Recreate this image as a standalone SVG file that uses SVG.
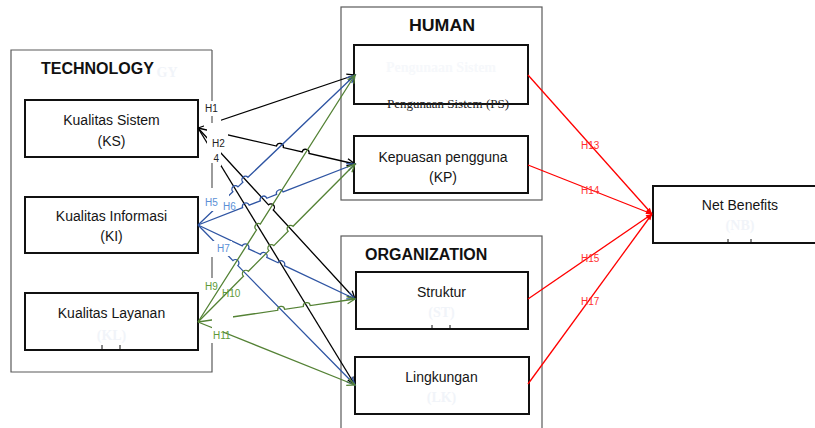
<svg xmlns="http://www.w3.org/2000/svg" width="815" height="428" viewBox="0 0 815 428">
<style>
.grp{fill:none;stroke:#5a5a5a;stroke-width:1.2}
.box{fill:#fff;stroke:#111;stroke-width:2}
.t{font-family:'Liberation Sans',Arial,sans-serif;font-size:14px;fill:#151515;text-anchor:middle}
.hd{font-family:'Liberation Sans',Arial,sans-serif;font-weight:bold;font-size:16px;fill:#111}
.ser{font-family:'Liberation Serif','Times New Roman',serif;font-size:13px;fill:#222;text-anchor:middle}
.ghost{font-family:'Liberation Serif','Times New Roman',serif;font-weight:bold;font-size:14px;fill:#f1f4f9;text-anchor:middle}
.c{fill:none;stroke-width:1.3}
.k{stroke:#000}
.b{stroke:#2f55a3}
.g{stroke:#548235}
.r{stroke:#ff0000}
.lbl{font-family:'Liberation Sans',Arial,sans-serif;font-size:10px}
.lk{fill:#222}
.lb{fill:#5b8fd6}
.lg{fill:#5e9a38}
.lr{fill:#ff3030}
.gap{fill:#fff}
.tick{stroke:#111;stroke-width:1}
</style>
<defs>
<marker id="ak" markerUnits="userSpaceOnUse" markerWidth="12" markerHeight="12" refX="0" refY="0" viewBox="-10 -6 12 12" orient="auto"><path d="M-8,-3.6 L0,0 L-8,3.6" fill="none" stroke="#000" stroke-width="1.3"/></marker>
<marker id="ab" markerUnits="userSpaceOnUse" markerWidth="12" markerHeight="12" refX="0" refY="0" viewBox="-10 -6 12 12" orient="auto"><path d="M-8,-3.6 L0,0 L-8,3.6" fill="none" stroke="#2f55a3" stroke-width="1.3"/></marker>
<marker id="ag" markerUnits="userSpaceOnUse" markerWidth="12" markerHeight="12" refX="0" refY="0" viewBox="-10 -6 12 12" orient="auto"><path d="M-8,-3.6 L0,0 L-8,3.6" fill="none" stroke="#548235" stroke-width="1.3"/></marker>
<marker id="ar" markerUnits="userSpaceOnUse" markerWidth="10" markerHeight="10" refX="0" refY="0" viewBox="-8 -5 10 10" orient="auto"><path d="M-6,-2.5 L0,0 L-6,2.5 Z" fill="#ff0000"/></marker>
</defs>
<rect width="815" height="428" fill="#fff"/>

<!-- group containers -->
<g id="technology">
<path class="grp" d="M212,50 L11,50 L11,372 L212,372 L212,343"/>
<text class="ghost" x="167" y="77" font-size="17">GY</text>
<text class="hd" x="41" y="74">TECHNOLOGY</text>
</g>
<g id="human">
<rect class="grp" x="341" y="7" width="201" height="193"/>
<text class="hd" x="409" y="31" textLength="66" lengthAdjust="spacingAndGlyphs">HUMAN</text>
</g>
<g id="organization">
<rect class="grp" x="341" y="236" width="201" height="210"/>
<text class="hd" x="365" y="260">ORGANIZATION</text>
</g>

<!-- nodes -->
<g id="ks">
<rect class="box" x="25" y="100" width="173" height="57"/>
<text class="t" x="111.5" y="125">Kualitas Sistem</text>
<text class="t" x="111.5" y="146">(KS)</text>
</g>
<g id="ki">
<rect class="box" x="25" y="197" width="173" height="56"/>
<text class="t" x="111.5" y="221">Kualitas Informasi</text>
<text class="t" x="111.5" y="241">(KI)</text>
</g>
<g id="kl">
<rect class="box" x="25" y="293" width="173" height="57"/>
<text class="t" x="111.5" y="318">Kualitas Layanan</text>
<text class="ghost" x="111.5" y="340">(KL)</text>
<line class="tick" x1="102" y1="345" x2="102" y2="350"/>
<line class="tick" x1="120" y1="345" x2="120" y2="350"/>
</g>
<g id="ps">
<rect class="box" x="354" y="45" width="174" height="59"/>
<text class="ghost" x="441" y="72" font-weight="normal" fill="#f6f8fb" style="fill:#f6f8fb">Pengunaan Sistem</text>
<text class="ser" x="448" y="108">Pengunaan Sistem (PS)</text>
</g>
<g id="kp">
<rect class="box" x="354" y="136" width="174" height="57"/>
<text class="t" x="443" y="162">Kepuasan pengguna</text>
<text class="t" x="443" y="182">(KP)</text>
</g>
<g id="st">
<rect class="box" x="356" y="272" width="172" height="57"/>
<text class="t" x="441.5" y="297">Struktur</text>
<text class="ghost" x="441.5" y="317">(ST)</text>
<line class="tick" x1="432" y1="325" x2="432" y2="329"/>
<line class="tick" x1="450" y1="325" x2="450" y2="329"/>
</g>
<g id="lk">
<rect class="box" x="355" y="357" width="174" height="57"/>
<text class="t" x="441.5" y="382">Lingkungan</text>
<text class="ghost" x="441.5" y="402">(LK)</text>
</g>
<g id="nb">
<rect class="box" x="653" y="186" width="180" height="57"/>
<text class="t" x="740" y="210">Net Benefits</text>
<text class="ghost" x="740" y="230">(NB)</text>
<line class="tick" x1="728" y1="239" x2="728" y2="243"/>
<line class="tick" x1="751" y1="239" x2="751" y2="243"/>
</g>

<!-- connectors -->
<g id="connectors">
<path class="c k" marker-end="url(#ak)" d="M198,128 L355,75"/>
<path class="c k" marker-end="url(#ak)" d="M198,128 L276.49,146.02 A3.5,3.5 0 0 1 283.31,147.58 L302.19,151.92 A3.5,3.5 0 0 1 309.01,153.48 L355,164"/>
<path class="c k" marker-end="url(#ak)" d="M198,128 L268.53,204.82 A3.5,3.5 0 0 1 273.27,209.98 L355,299"/>
<path class="c k" marker-end="url(#ak)" d="M198,128 L355,385"/>

<path class="c b" marker-end="url(#ab)" d="M198,225 L232.87,191.69 A3.5,3.5 0 0 1 237.93,186.85 L242.87,182.13 A3.5,3.5 0 0 1 247.93,177.29 L355,75"/>
<path class="c b" marker-end="url(#ab)" d="M198,225 L242.64,207.66 A3.5,3.5 0 0 1 249.16,205.12 L260.34,200.78 A3.5,3.5 0 0 1 266.86,198.24 L276.64,194.45 A3.5,3.5 0 0 1 283.16,191.91 L355,164"/>
<path class="c b" marker-end="url(#ab)" d="M198,225 L242.23,245.85 A3.5,3.5 0 0 1 248.57,248.83 L260.43,254.43 A3.5,3.5 0 0 1 266.77,257.41 L278.03,262.72 A3.5,3.5 0 0 1 284.37,265.70 L355,299"/>
<path class="c b" marker-end="url(#ab)" d="M198,225 L232.95,260.61 A3.5,3.5 0 0 1 237.85,265.61 L355,385"/>

<path class="c g" marker-end="url(#ag)" d="M198,322 L256.52,229.93 A3.5,3.5 0 0 1 260.28,224.03 L355,75"/>
<path class="c g" marker-end="url(#ag)" d="M198,322 L243.43,276.28 A3.5,3.5 0 0 1 248.37,271.32 L268.93,250.61 A3.5,3.5 0 0 1 273.87,245.65 L288.13,231.29 A3.5,3.5 0 0 1 293.07,226.33 L355,164"/>
<path class="c g" marker-end="url(#ag)" d="M198,322 L277.74,310.32 A3.5,3.5 0 0 1 284.66,309.30 L303.34,306.57 A3.5,3.5 0 0 1 310.26,305.55 L355,299"/>
<path class="c g" marker-end="url(#ag)" d="M198,322 L355,385"/>

<path class="c r" marker-end="url(#ar)" d="M528,75 L652,214"/>
<path class="c r" marker-end="url(#ar)" d="M528,165 L652,214"/>
<path class="c r" marker-end="url(#ar)" d="M528,299 L652,214"/>
<path class="c r" marker-end="url(#ar)" d="M528,384 L652,214"/>

<!-- label backgrounds that interrupt lines -->
<rect class="gap" x="204" y="97" width="17" height="30"/>
<rect class="gap" x="207" y="129" width="21" height="19"/>
<rect class="gap" x="209" y="148" width="12" height="18"/>
<rect class="gap" x="206" y="193" width="23" height="18"/>
<rect class="gap" x="213" y="241" width="19" height="15"/>
<rect class="gap" x="212" y="312" width="21" height="10"/>
<rect class="gap" x="212" y="326" width="11" height="16"/>

<path class="grp" d="M212,50 V101 M212,116 V123 M212,163 V188 M212,257 V278"/>

<text class="lbl lk" x="205" y="112">H1</text>
<text class="lbl lk" x="212" y="147">H2</text>
<text class="lbl lk" x="213.5" y="162">4</text>
<text class="lbl lb" x="205" y="206">H5</text>
<text class="lbl lb" x="223" y="210">H6</text>
<text class="lbl lb" x="217" y="252">H7</text>
<text class="lbl lg" x="205" y="290">H9</text>
<text class="lbl lg" x="222" y="297">H10</text>
<text class="lbl lg" x="213" y="339">H11</text>
<text class="lbl lr" x="581" y="149">H13</text>
<text class="lbl lr" x="581" y="194">H14</text>
<text class="lbl lr" x="581" y="262">H15</text>
<text class="lbl lr" x="581" y="305">H17</text>
</g>
</svg>
